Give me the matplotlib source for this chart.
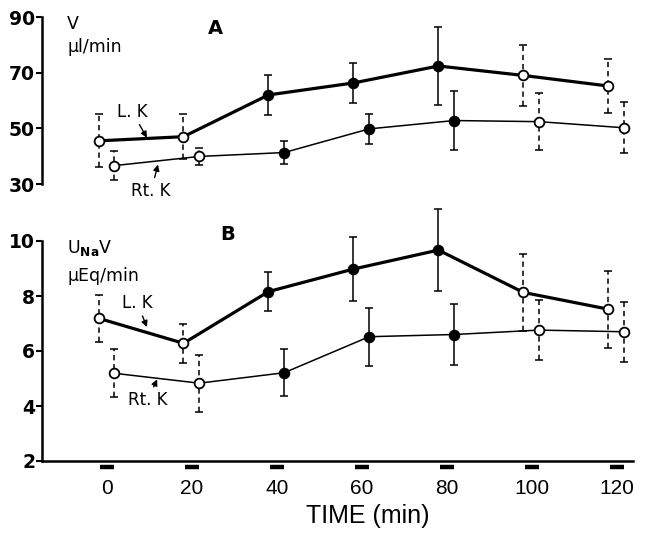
import matplotlib
matplotlib.use('Agg')
import matplotlib.pyplot as plt

# time points (min) and which periods are experimental (filled symbols)
times = [0, 20, 40, 60, 80, 100, 120]
filled = [False, False, True, True, True, False, False]

# panel A: urine flow V (ul/min)
v_left = [45.5, 47.0, 62.0, 66.3, 72.4, 69.0, 65.2]
v_left_err = [9.5, 8.0, 7.3, 7.2, 14.0, 10.8, 9.8]
v_right = [36.6, 39.9, 41.3, 49.8, 52.8, 52.4, 50.2]
v_right_err = [5.3, 3.2, 4.0, 5.3, 10.5, 10.3, 9.1]

# panel B: sodium excretion UNaV (uEq/min)
una_left = [7.19, 6.28, 8.16, 8.98, 9.67, 8.13, 7.52]
una_left_err = [0.85, 0.70, 0.70, 1.17, 1.50, 1.40, 1.40]
una_right = [5.19, 4.83, 5.21, 6.52, 6.60, 6.76, 6.70]
una_right_err = [0.87, 1.04, 0.85, 1.05, 1.10, 1.10, 1.10]

x_ticks = [0, 20, 40, 60, 80, 100, 120]
a_ticks = [30, 50, 70, 90]
b_ticks = [2, 4, 6, 8, 10]

plt.rcParams['font.family'] = ['DejaVu Sans']

fig = plt.figure(figsize=(6.45, 5.37), dpi=100)
W, H = 645.0, 537.0
x0, x1 = 42, 633
axA = fig.add_axes([x0/W, 1-184/H, (x1-x0)/W, (184-17)/H])
axB = fig.add_axes([x0/W, 1-461/H, (x1-x0)/W, (461-241)/H])

xlim = (-15.3, 123.8)


#one kidney series: line, error bars (dashed on control periods), symbols
def addSeries(ax, vals, errs, offset, lw):
    xs = [t+offset for t in times]
    ax.plot(xs, vals, '-', color='black', linewidth=lw, zorder=2)
    for i in range(len(xs)):
        eb = ax.errorbar([xs[i]], [vals[i]], yerr=[errs[i]], fmt='none',
                         ecolor='black', elinewidth=1.1, capsize=2.8,
                         capthick=1.1, zorder=1)
        for c in eb[1]:
            c.set_clip_on(False)
        eb[2][0].set_clip_on(False)
        if not filled[i]:
            eb[2][0].set_linestyle((0, (3.5, 2.5)))
        face = 'black' if filled[i] else 'white'
        ax.plot([xs[i]], [vals[i]], 'o', markersize=7, markerfacecolor=face,
                markeredgecolor='black', markeredgewidth=1.3, zorder=3)


def styleAxis(ax, ticks):
    for s in ['top', 'right']:
        ax.spines[s].set_visible(False)
    ax.spines['left'].set_linewidth(1.8)
    ax.spines['left'].set_bounds(ticks[0], ticks[-1])
    ax.set_yticks(ticks)
    ax.tick_params(axis='y', direction='out', length=4, width=1.5, pad=1,
                   labelsize=13.5)
    for lab in ax.get_yticklabels():
        lab.set_fontweight('bold')
    ax.set_xlim(xlim)


# panel A
addSeries(axA, v_left, v_left_err, -2.0, 2.3)
addSeries(axA, v_right, v_right_err, 1.7, 1.1)
styleAxis(axA, a_ticks)
axA.set_ylim(30, 90)
axA.spines['bottom'].set_visible(False)
axA.set_xticks([])

axA.text(-9.4, 87.5, 'V', ha='left', va='center', fontsize=12.5)
axA.text(-9.4, 79.2, 'µl/min', ha='left', va='center', fontsize=12.5)
axA.text(25.6, 86.0, 'A', ha='center', va='center', fontsize=14, fontweight='bold')
arrow = dict(arrowstyle='-|>', color='black', lw=1.0, mutation_scale=9,
             shrinkA=1, shrinkB=0)
axA.annotate('L. K', xy=(9.4, 46.6), xytext=(5.9, 56.0), ha='center',
             va='center', fontsize=12, arrowprops=arrow)
axA.annotate('Rt. K', xy=(12.0, 37.0), xytext=(10.4, 27.6), ha='center',
             va='center', fontsize=12, arrowprops=arrow, annotation_clip=False)

# panel B
addSeries(axB, una_left, una_left_err, -2.0, 2.3)
addSeries(axB, una_right, una_right_err, 1.7, 1.1)
styleAxis(axB, b_ticks)
axB.set_ylim(2, 10)
axB.spines['bottom'].set_linewidth(1.8)
axB.set_xticks(x_ticks)
axB.tick_params(axis='x', length=0, pad=13)
for lab in axB.get_xticklabels():
    lab.set_fontfamily('Liberation Sans')
    lab.set_fontsize(15)
# black bars marking each period under the axis
axB.plot(x_ticks, [1.79]*len(x_ticks), '_', color='black', markersize=10,
         markeredgewidth=3.2, clip_on=False)
axB.set_xlabel('TIME (min)', fontsize=18, family='Liberation Sans')
axB.xaxis.set_label_coords((367.5-x0)/(x1-x0), -55/220.0)
axB.xaxis.label.set_va('center')

axB.text(-9.4, 9.75, r'U$_{\mathbf{Na}}$V', ha='left', va='center', fontsize=12.5)
axB.text(-9.4, 8.73, 'µEq/min', ha='left', va='center', fontsize=12.5)
axB.text(28.5, 10.25, 'B', ha='center', va='center', fontsize=14,
         fontweight='bold', clip_on=False)
axB.annotate('L. K', xy=(9.4, 6.87), xytext=(7.1, 7.75), ha='center',
             va='center', fontsize=12, arrowprops=arrow)
axB.annotate('Rt. K', xy=(11.8, 4.97), xytext=(9.6, 4.22), ha='center',
             va='center', fontsize=12, arrowprops=arrow)

plt.savefig('out.png', dpi=100)
plt.close()
